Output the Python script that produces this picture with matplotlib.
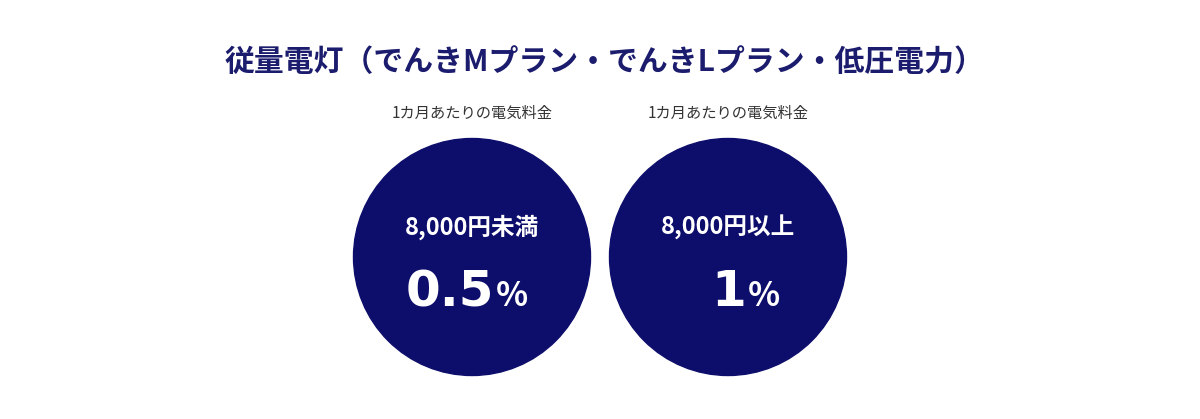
import matplotlib
matplotlib.use("Agg")
import matplotlib.pyplot as plt
from matplotlib.patches import Circle

plt.rcParams['font.family'] = ['Noto Sans CJK JP', 'DejaVu Sans']

title = "従量電灯（でんきMプラン・でんきLプラン・低圧電力）"
captions = ["1カ月あたりの電気料金", "1カ月あたりの電気料金"]
thresholds = ["8,000円未満", "8,000円以上"]
rates = ["0.5", "1"]
unit = "%"

W, H = 1200, 419
fig = plt.figure(figsize=(12, 4.19), dpi=100)
ax = fig.add_axes([0, 0, 1, 1])
ax.set_xlim(0, W)
ax.set_ylim(H, 0)
ax.set_aspect('equal')
ax.axis('off')

navy = "#0d0d6b"
ax.text(604, 62, title, ha='center', va='center', fontsize=21.5, fontweight='bold', color="#1c1c6e")

centers = [472, 728]
offsets = [22, 18]
for cx, cap, th, r, off in zip(centers, captions, thresholds, rates, offsets):
    ax.text(cx, 113, cap, ha='center', va='center', fontsize=11, color="#333333")
    ax.add_patch(Circle((cx, 257), 118.5, color=navy))
    ax.text(cx, 227, th, ha='center', va='center', fontsize=17, fontweight='bold', color='white')
    ax.text(cx + off, 292, r, ha='right', va='center', fontsize=36, fontweight='bold', color='white',
            family=['DejaVu Sans'])
    ax.text(cx + off + 2, 296, unit, ha='left', va='center', fontsize=24, fontweight='bold', color='white',
            family=['Noto Sans CJK JP'])

fig.savefig("out.png", dpi=100)
